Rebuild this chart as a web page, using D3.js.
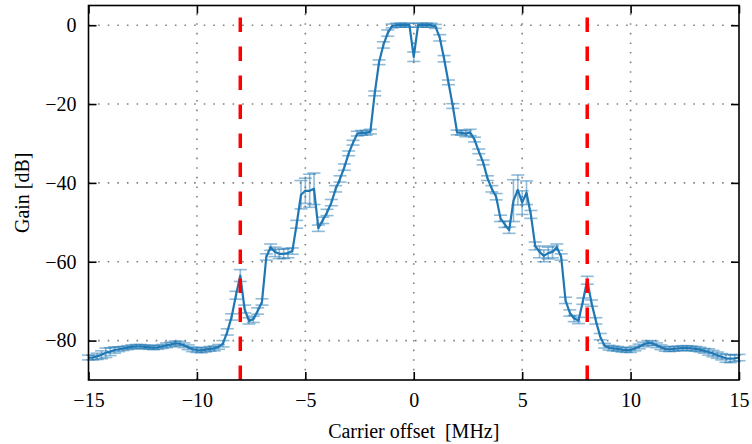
<!DOCTYPE html>
<html>
<head>
<meta charset="utf-8">
<script src="https://cdn.jsdelivr.net/npm/d3@7"></script>
<style>
  body { margin: 0; background: #fff; }
  text { font-family: "Liberation Serif", "DejaVu Serif", serif; }
</style>
</head>
<body>
<script>
// measured gain vs carrier offset, sampled every 0.2 MHz from -15 to 15
var freqs = d3.range(151).map(i => -15 + i * 0.2);

var gains = [
  -84.3, -84.3, -84.0, -83.6, -83.1, -82.8, -82.4, -82.2, -82.0, -81.8,
  -81.6, -81.5, -81.5, -81.6, -81.7, -81.8, -81.7, -81.5, -81.2, -81.0,
  -80.7, -80.8, -81.2, -81.7, -82.2, -82.4, -82.5, -82.3, -82.1, -82.0,
  -81.6, -80.8, -77.8, -74.0, -68.5, -63.5, -72.0, -75.0, -74.6, -72.5,
  -70.2, -58.8, -56.3, -57.5, -58.0, -58.0, -57.8, -57.3, -50.5, -43.0,
  -42.0, -42.0, -41.5, -51.5, -49.5, -47.5, -45.0, -41.5, -39.0, -36.0,
  -32.5, -29.8, -27.5, -27.3, -27.3, -27.0, -17.3, -9.4, -5.0, -2.0,
  -0.2, 0.0, 0.0, 0.0, 0.0, -8.0, 0.0, 0.0, 0.0, 0.0,
  -0.3, -3.2, -8.5, -14.5, -20.5, -27.2, -27.3, -27.5, -27.2, -29.0,
  -32.0, -34.8, -38.8, -41.5, -43.5, -49.0, -50.5, -52.0, -44.5, -41.8,
  -45.0, -42.5, -48.0, -56.0, -57.5, -58.5, -57.8, -57.5, -56.3, -58.8,
  -69.8, -73.0, -74.4, -74.9, -70.0, -64.7, -70.5, -75.0, -79.0, -81.3,
  -81.8, -82.0, -82.1, -82.3, -82.4, -82.4, -82.0, -81.5, -81.0, -80.6,
  -80.7, -81.2, -81.7, -82.1, -82.2, -82.1, -82.0, -81.9, -81.9, -82.0,
  -82.1, -82.3, -82.6, -82.9, -83.3, -83.7, -84.1, -84.5, -84.6, -84.5,
  -84.3
];

var errors = [
  0.6, 0.6, 0.8, 1.0, 1.2, 1.0, 0.8, 0.6, 0.5, 0.5,
  0.5, 0.5, 0.5, 0.5, 0.5, 0.5, 0.5, 0.5, 0.6, 0.6,
  0.6, 0.6, 0.6, 0.6, 0.6, 0.6, 0.6, 0.6, 0.6, 0.6,
  0.6, 0.8, 0.8, 0.8, 1.0, 1.5, 1.0, 0.8, 0.8, 0.8,
  0.8, 0.8, 0.8, 1.2, 1.2, 1.2, 1.2, 0.8, 1.0, 3.6,
  3.2, 4.2, 4.0, 0.8, 0.8, 0.8, 0.8, 0.8, 0.8, 0.8,
  0.6, 0.6, 0.6, 0.6, 0.6, 0.6, 0.6, 0.6, 0.8, 0.8,
  0.5, 0.5, 0.5, 0.5, 0.5, 1.2, 0.5, 0.5, 0.5, 0.5,
  0.5, 0.8, 0.8, 0.6, 0.6, 0.6, 0.6, 0.8, 0.8, 0.6,
  0.6, 0.6, 0.6, 0.8, 0.8, 0.8, 0.8, 0.8, 5.3, 3.8,
  3.0, 3.0, 1.0, 1.0, 1.5, 1.5, 1.5, 1.5, 0.8, 0.8,
  0.8, 0.8, 0.8, 0.8, 0.8, 1.0, 0.8, 0.8, 0.8, 0.6,
  0.6, 0.6, 0.6, 0.6, 0.6, 0.6, 0.6, 0.6, 0.6, 0.6,
  0.6, 0.6, 0.6, 0.6, 0.6, 0.6, 0.6, 0.6, 0.6, 0.6,
  0.6, 0.6, 0.6, 0.8, 0.8, 0.8, 0.8, 1.0, 1.0, 0.8,
  0.8
];

var xTicks = [-15, -10, -5, 0, 5, 10, 15];
var yTicks = [0, -20, -40, -60, -80];
var markers = [-8, 8];   // channel edges

var width = 752, height = 444;
// plot box (window.top is read-only, so no "top" here)
var pLeft = 88.5, pRight = 739, pTop = 5.5, pBottom = 380;

var svg = d3.select("body").append("svg")
    .attr("width", width)
    .attr("height", height);

var x = d3.scaleLinear().domain([-15, 15]).range([pLeft, pRight]);
var y = d3.scaleLinear().domain([-90, 5]).range([pBottom, pTop]);

var data = freqs.map((f, i) => ({f: f, g: gains[i], e: errors[i]}));

// grid
var grid = svg.append("g")
    .attr("stroke", "#808080")
    .attr("stroke-width", 1.6)
    .attr("stroke-dasharray", "1.6,8");

grid.selectAll(".gx")
    .data(xTicks.filter(d => d > -15 && d < 15))
    .enter().append("line")
    .attr("x1", d => x(d)).attr("x2", d => x(d))
    .attr("y1", pBottom).attr("y2", pTop);

grid.selectAll(".gy")
    .data(yTicks)
    .enter().append("line")
    .attr("x1", pLeft).attr("x2", pRight)
    .attr("y1", d => y(d)).attr("y2", d => y(d));

// error bars
var eb = svg.append("g")
    .attr("stroke", "#1f77b4")
    .attr("stroke-opacity", 0.5)
    .attr("stroke-width", 1.6);

eb.selectAll(".v")
    .data(data)
    .enter().append("line")
    .attr("x1", d => x(d.f)).attr("x2", d => x(d.f))
    .attr("y1", d => y(d.g - d.e)).attr("y2", d => y(d.g + d.e));

var cap = 6.5;
eb.selectAll(".ct")
    .data(data)
    .enter().append("line")
    .attr("x1", d => x(d.f) - cap).attr("x2", d => x(d.f) + cap)
    .attr("y1", d => y(d.g + d.e)).attr("y2", d => y(d.g + d.e));

eb.selectAll(".cb")
    .data(data)
    .enter().append("line")
    .attr("x1", d => x(d.f) - cap).attr("x2", d => x(d.f) + cap)
    .attr("y1", d => y(d.g - d.e)).attr("y2", d => y(d.g - d.e));

// response line
var line = d3.line()
    .x(d => x(d.f))
    .y(d => y(d.g));

svg.append("path")
    .datum(data)
    .attr("fill", "none")
    .attr("stroke", "#1f77b4")
    .attr("stroke-width", 2.2)
    .attr("stroke-linejoin", "round")
    .attr("d", line);

// red dashed markers
svg.selectAll(".mk")
    .data(markers)
    .enter().append("line")
    .attr("x1", d => x(d)).attr("x2", d => x(d))
    .attr("y1", pBottom).attr("y2", pTop)
    .attr("stroke", "#ff0000")
    .attr("stroke-width", 3.5)
    .attr("stroke-dasharray", "14.5,14.5");

// axes, ticks pointing inwards on all four sides
var fs = "20px";

var xAxis = svg.append("g")
    .attr("transform", "translate(0," + pBottom + ")")
    .call(d3.axisBottom(x).tickValues(xTicks).tickSizeInner(-8).tickSizeOuter(0).tickPadding(13));

var yAxis = svg.append("g")
    .attr("transform", "translate(" + pLeft + ",0)")
    .call(d3.axisLeft(y).tickValues(yTicks).tickSizeInner(-8).tickSizeOuter(0).tickPadding(12));

var xTop = svg.append("g")
    .attr("transform", "translate(0," + pTop + ")")
    .call(d3.axisTop(x).tickValues(xTicks).tickSizeInner(-8).tickSizeOuter(0).tickFormat(""));

var yRight = svg.append("g")
    .attr("transform", "translate(" + pRight + ",0)")
    .call(d3.axisRight(y).tickValues(yTicks).tickSizeInner(-8).tickSizeOuter(0).tickFormat(""));

[xAxis, yAxis, xTop, yRight].forEach(a => {
    a.select(".domain").remove();
    a.selectAll(".tick line").attr("stroke", "#000").attr("stroke-width", 1.6);
    a.selectAll("text")
        .attr("fill", "#000")
        .style("font-family", "'Liberation Serif', serif")
        .style("font-size", fs);
});

// frame
svg.append("rect")
    .attr("x", pLeft).attr("y", pTop)
    .attr("width", pRight - pLeft).attr("height", pBottom - pTop)
    .attr("fill", "none")
    .attr("stroke", "#000")
    .attr("stroke-width", 1.6);

// labels
svg.append("text")
    .attr("x", (pLeft + pRight) / 2)
    .attr("y", 438)
    .attr("text-anchor", "middle")
    .style("font-size", fs)
    .style("white-space", "pre")
    .text("Carrier offset  [MHz]");

svg.append("text")
    .attr("transform", "translate(29," + (pTop + pBottom) / 2 + ") rotate(-90)")
    .attr("text-anchor", "middle")
    .style("font-size", fs)
    .text("Gain [dB]");
</script>
</body>
</html>
